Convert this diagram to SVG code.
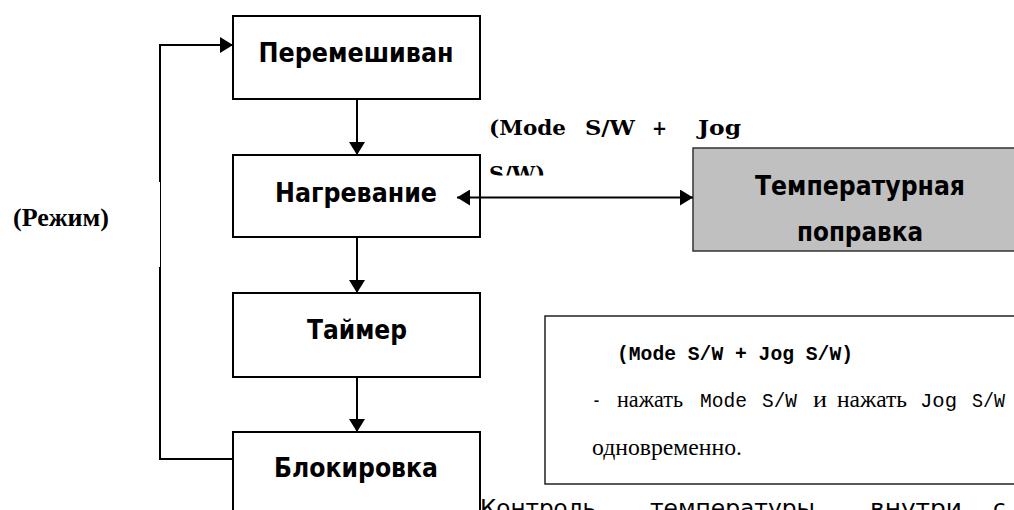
<svg xmlns="http://www.w3.org/2000/svg" width="1014" height="510" viewBox="0 0 1014 510">
<style>
.box{fill:#fff;stroke:#000;stroke-width:2}
.gbox{fill:#c0c0c0;stroke:#333;stroke-width:1.5}
.ibox{fill:#fff;stroke:#222;stroke-width:1.5}
.lbl{font-family:"DejaVu Sans",Verdana,sans-serif;font-weight:bold;font-size:26px;text-anchor:middle;fill:#000}
.conn{stroke:#000;stroke-width:2;fill:none}
.ser{font-family:"Liberation Serif","Times New Roman",serif;font-weight:bold;fill:#000}
.wser{font-family:"DejaVu Serif",serif;font-weight:bold;font-size:20px;fill:#000}
.mono{font-family:"Liberation Mono","Courier New",monospace;font-size:21px;fill:#000}
.rser{font-family:"Liberation Serif","Times New Roman",serif;font-size:23px;fill:#000}
.body{font-family:"DejaVu Sans",Verdana,sans-serif;font-size:23px;fill:#000}
</style>
<defs>
<marker id="ah" markerUnits="userSpaceOnUse" markerWidth="14" markerHeight="16" refX="13" refY="8" orient="auto-start-reverse"><path d="M0,0 L13,8 L0,16 z" fill="#000"/></marker>
<clipPath id="gclip"><rect x="693" y="148" width="330" height="103"/></clipPath>
<clipPath id="mclip"><rect x="480" y="100" width="280" height="75.5"/></clipPath>
</defs>
<rect width="1014" height="510" fill="#fff"/>

<g id="node-mix">
<rect class="box" x="233" y="16" width="247" height="83"/>
<text class="lbl" x="356" y="62" textLength="195" lengthAdjust="spacingAndGlyphs">Перемешиван</text>
</g>
<g id="node-heat">
<rect class="box" x="233" y="155" width="247" height="82"/>
<text class="lbl" x="356" y="202" textLength="162" lengthAdjust="spacingAndGlyphs">Нагревание</text>
</g>
<g id="node-timer">
<rect class="box" x="233" y="293" width="247" height="84"/>
<text class="lbl" x="357" y="339" textLength="100" lengthAdjust="spacingAndGlyphs">Таймер</text>
</g>
<g id="node-lock">
<rect class="box" x="233" y="432" width="247" height="84"/>
<text class="lbl" x="356" y="477" textLength="164" lengthAdjust="spacingAndGlyphs">Блокировка</text>
</g>
<g id="node-temp">
<rect class="gbox" x="693" y="148" width="330" height="103"/>
<g clip-path="url(#gclip)">
<text class="lbl" x="860" y="195" textLength="210" lengthAdjust="spacingAndGlyphs">Температурная</text>
<text class="lbl" x="860" y="241" textLength="126" lengthAdjust="spacingAndGlyphs">поправка</text>
</g>
</g>

<g id="label-mode">
<text class="ser" x="13" y="226" font-size="25" textLength="96" lengthAdjust="spacingAndGlyphs">(Режим)</text>
</g>

<g id="label-modejog" clip-path="url(#mclip)">
<text class="wser" x="489" y="135" textLength="77" lengthAdjust="spacingAndGlyphs">(Mode</text>
<text class="wser" x="585" y="135" textLength="50" lengthAdjust="spacingAndGlyphs">S/W</text>
<text class="wser" x="652" y="135" textLength="15" lengthAdjust="spacingAndGlyphs">+</text>
<text class="wser" x="698" y="135" textLength="43" lengthAdjust="spacingAndGlyphs">Jog</text>
<text class="wser" x="489" y="181" textLength="56" lengthAdjust="spacingAndGlyphs">S/W)</text>
</g>

<g id="node-info">
<rect class="ibox" x="545" y="316" width="480" height="168"/>
<text class="mono" x="617" y="360" font-weight="bold" textLength="236" lengthAdjust="spacingAndGlyphs">(Mode S/W + Jog S/W)</text>
<text class="mono" x="592" y="407" textLength="9" lengthAdjust="spacingAndGlyphs">-</text>
<text class="rser" x="617" y="407" textLength="66" lengthAdjust="spacingAndGlyphs">нажать</text>
<text class="mono" x="700" y="407" fill="#333" textLength="47" lengthAdjust="spacingAndGlyphs">Mode</text>
<text class="mono" x="762" y="407" fill="#333" textLength="35" lengthAdjust="spacingAndGlyphs">S/W</text>
<text class="rser" x="813" y="407" textLength="14" lengthAdjust="spacingAndGlyphs">и</text>
<text class="rser" x="837" y="407" textLength="70" lengthAdjust="spacingAndGlyphs">нажать</text>
<text class="mono" x="920" y="407" fill="#333" textLength="37" lengthAdjust="spacingAndGlyphs">Jog</text>
<text class="mono" x="972" y="407" fill="#333" textLength="33" lengthAdjust="spacingAndGlyphs">S/W</text>
<text class="rser" x="592" y="455" textLength="150" lengthAdjust="spacingAndGlyphs">одновременно.</text>
</g>

<g id="body-text">
<text class="body" x="480" y="516" textLength="116" lengthAdjust="spacingAndGlyphs">Контроль</text>
<text class="body" x="650" y="516" textLength="165" lengthAdjust="spacingAndGlyphs">температуры</text>
<text class="body" x="870" y="516" textLength="92" lengthAdjust="spacingAndGlyphs">внутри</text>
<text class="body" x="993" y="516">с</text>
</g>

<g id="connectors">
<line class="conn" x1="357" y1="99" x2="357" y2="155" marker-end="url(#ah)"/>
<line class="conn" x1="357" y1="237" x2="357" y2="293" marker-end="url(#ah)"/>
<line class="conn" x1="357" y1="377" x2="357" y2="432" marker-end="url(#ah)"/>
<line class="conn" x1="457" y1="197.5" x2="693" y2="197.5" marker-start="url(#ah)" marker-end="url(#ah)"/>
<path class="conn" d="M233,459 H160 V267"/>
<path class="conn" style="stroke-width:1" d="M160.5,267 V182"/>
<path class="conn" d="M160,182 V45 H233" marker-end="url(#ah)"/>
</g>
</svg>
